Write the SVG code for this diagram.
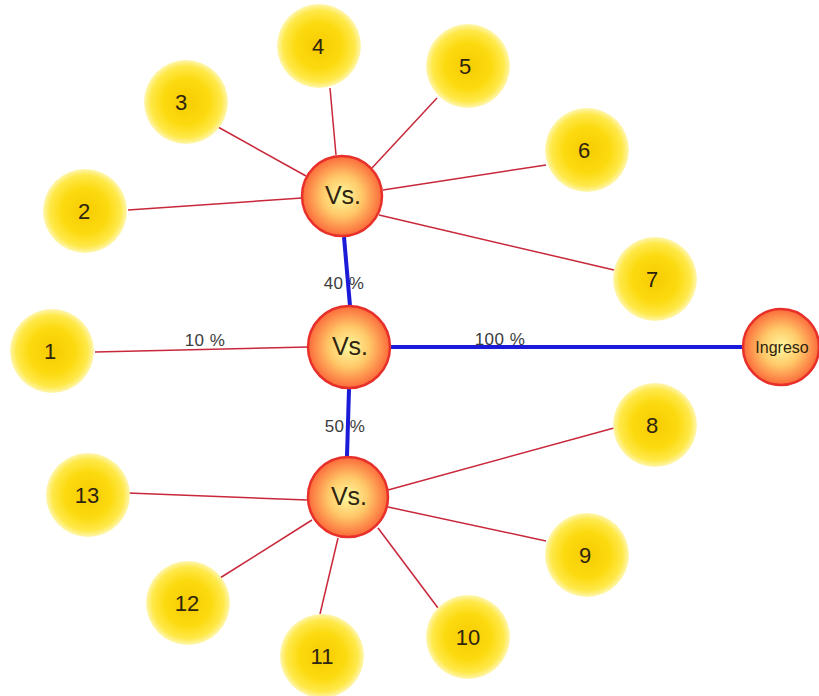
<svg xmlns="http://www.w3.org/2000/svg" width="819" height="696" viewBox="0 0 819 696">
<style>
.y{fill:url(#yg)}
.r{fill:url(#rg);stroke:#e8302a;stroke-width:2.5}
.yt{font-family:"Liberation Sans",Arial,sans-serif;font-size:22px;fill:#2e2410;text-anchor:middle}
.vt{font-family:"Liberation Sans",Arial,sans-serif;font-size:25px;fill:#2e2410;text-anchor:middle}
.lt{font-family:"Liberation Sans",Arial,sans-serif;font-size:17px;fill:#3c3c3c;text-anchor:middle;letter-spacing:0.5px}
.thin{stroke:#c8283a;stroke-width:1.5;fill:none}
.thick{stroke:#1a1ad8;stroke-width:4;fill:none}
</style>
<defs>
<radialGradient id="yg" cx="0.5" cy="0.5" r="0.5">
<stop offset="0" stop-color="#f6cc00"/>
<stop offset="0.55" stop-color="#fcda10"/>
<stop offset="0.85" stop-color="#ffe94a"/>
<stop offset="1" stop-color="#fff6b0"/>
</radialGradient>
<radialGradient id="rg" cx="0.5" cy="0.5" r="0.5">
<stop offset="0" stop-color="#fffaa0"/>
<stop offset="0.5" stop-color="#ffc868"/>
<stop offset="1" stop-color="#fb6a3a"/>
</radialGradient>
</defs>
<rect width="819" height="696" fill="#ffffff"/>
<g id="labels-under">
<text class="lt" x="205" y="346">10 %</text>
<text class="lt" x="500" y="345">100 %</text>
<text class="lt" x="344" y="289">40 %</text>
<text class="lt" x="345" y="432">50 %</text>
</g>
<g id="connectors">
<line class="thin" x1="95" y1="352" x2="308" y2="347"/>
<line class="thin" x1="128" y1="210" x2="302" y2="198"/>
<line class="thin" x1="218" y1="127" x2="306" y2="176"/>
<line class="thin" x1="330" y1="88" x2="336" y2="155"/>
<line class="thin" x1="437" y1="98" x2="372" y2="168"/>
<line class="thin" x1="546" y1="165" x2="383" y2="190"/>
<line class="thin" x1="614" y1="270" x2="379" y2="215"/>
<line class="thin" x1="128" y1="493" x2="307" y2="500"/>
<line class="thin" x1="220" y1="578" x2="312" y2="520"/>
<line class="thin" x1="320" y1="614" x2="338" y2="538"/>
<line class="thin" x1="438" y1="608" x2="378" y2="528"/>
<line class="thin" x1="546" y1="541" x2="388" y2="507"/>
<line class="thin" x1="614" y1="428" x2="388" y2="490"/>
<line class="thick" x1="344" y1="237" x2="350" y2="306"/>
<line class="thick" x1="349" y1="389" x2="347" y2="456"/>
<line class="thick" x1="391" y1="347" x2="743" y2="347"/>
</g>
<g id="n1"><circle class="y" cx="52" cy="351" r="42"/><text class="yt" x="50" y="359">1</text></g>
<g id="n2"><circle class="y" cx="85" cy="211" r="42"/><text class="yt" x="84" y="219">2</text></g>
<g id="n3"><circle class="y" cx="186" cy="102" r="42"/><text class="yt" x="181" y="110">3</text></g>
<g id="n4"><circle class="y" cx="319" cy="46" r="42"/><text class="yt" x="318" y="54">4</text></g>
<g id="n5"><circle class="y" cx="468" cy="66" r="42"/><text class="yt" x="465" y="74">5</text></g>
<g id="n6"><circle class="y" cx="587" cy="150" r="42"/><text class="yt" x="584" y="158">6</text></g>
<g id="n7"><circle class="y" cx="655" cy="279" r="42"/><text class="yt" x="652" y="287">7</text></g>
<g id="n8"><circle class="y" cx="655" cy="425" r="42"/><text class="yt" x="652" y="433">8</text></g>
<g id="n9"><circle class="y" cx="587" cy="555" r="42"/><text class="yt" x="585" y="563">9</text></g>
<g id="n10"><circle class="y" cx="468" cy="637" r="42"/><text class="yt" x="468" y="645">10</text></g>
<g id="n11"><circle class="y" cx="322" cy="656" r="42"/><text class="yt" x="322" y="664">11</text></g>
<g id="n12"><circle class="y" cx="188" cy="603" r="42"/><text class="yt" x="187" y="611">12</text></g>
<g id="n13"><circle class="y" cx="88" cy="495" r="42"/><text class="yt" x="87" y="503">13</text></g>
<g id="vs-top"><circle class="r" cx="342" cy="196" r="40"/><text class="vt" x="343" y="204">Vs.</text></g>
<g id="vs-mid"><circle class="r" cx="349" cy="347" r="41"/><text class="vt" x="350" y="355">Vs.</text></g>
<g id="vs-bot"><circle class="r" cx="348" cy="497" r="40"/><text class="vt" x="349" y="505">Vs.</text></g>
<g id="ingreso"><circle class="r" cx="781" cy="347" r="38"/><text x="782" y="353" style="font-family:'Liberation Sans',Arial,sans-serif;font-size:16px;fill:#2e2410;text-anchor:middle">Ingreso</text></g>
</svg>
